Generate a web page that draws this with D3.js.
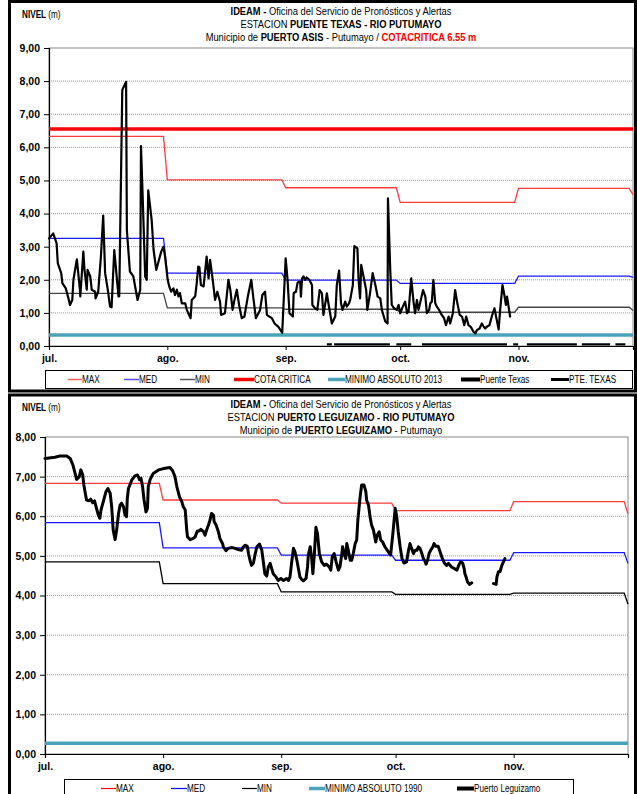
<!DOCTYPE html>
<html>
<head>
<meta charset="utf-8">
<script src="https://cdn.jsdelivr.net/npm/d3@7"></script>
<style>
  body { margin: 0; background: #fff; }
  svg text { font-family: "Liberation Sans", Arial, sans-serif; }
</style>
</head>
<body>
<svg id="visu" width="637" height="794"></svg>
<script>
// ---- data ----
var monthLabels = ["jul.", "ago.", "sep.", "oct.", "nov."];
var startDate = new Date(2013, 6, 1);
var endDate = new Date(2013, 11, 1);

// Puente Texas: monthly reference levels jul..nov + value on dec 1
var texMax = [6.33, 5.02, 4.78, 4.34, 4.76, 4.57];
var texMed = [3.25, 2.20, 1.99, 1.89, 2.11, 2.07];
var texMin = [1.59, 1.15, 1.11, 1.02, 1.17, 1.07];
var texCota = 6.55;
var texMinAbs = 0.33;
// observed level, day offset from jul 1
var texDay = [0, 1.1, 2.0, 2.3, 3.2, 3.5, 4.4, 5.2, 5.5, 6.1, 6.4, 7.3, 8.1, 8.2, 9.0, 9.3, 9.9, 10.1, 10.8, 11.2,
  12.1, 12.2, 12.9, 13.6, 14.2, 14.7, 15.4, 16.0, 16.4, 17.1, 17.5, 18.2, 18.4, 19.2, 20.2, 20.4, 21.2, 22.1, 23.2, 23.9,
  24.1, 24.6, 25.2, 25.6, 26.0, 26.9, 27.4, 28.1, 28.7, 29.4, 30.0, 30.4, 31.1, 31.5, 32.0, 32.6, 33.0, 33.5, 33.9, 34.3,
  34.8, 35.7, 36.1, 37.1, 37.4, 38.3, 38.7, 39.1, 39.4, 39.8, 40.5, 41.3, 41.8, 42.2, 42.9, 43.5, 44.1, 44.8, 45.1, 46.1,
  47.0, 47.5, 48.1, 48.5, 49.2, 49.8, 50.5, 51.2, 52.1, 53.0, 53.6, 54.2, 55.3, 55.9, 56.6, 57.1, 57.7, 58.4, 59.1, 60.1,
  61.1, 62.0, 62.5, 63.0, 63.9, 64.1, 64.7, 65.1, 65.4, 65.8, 66.0, 66.3, 66.7, 67.1, 67.5, 68.2, 68.9, 69.0, 69.7, 70.3,
  70.9, 71.5, 71.9, 72.8, 73.2, 74.1, 75.0, 75.4, 76.0, 76.5, 76.9, 77.6, 78.0, 78.6, 78.9, 79.6, 80.0, 80.8, 81.1, 81.5,
  81.8, 82.4, 83.1, 83.4, 84.1, 84.8, 85.5, 86.1, 86.8, 87.2, 88.1, 88.7, 88.8, 89.4, 89.8, 90.4, 91.1, 91.6, 92.0, 92.7,
  93.3, 93.8, 94.2, 94.9, 95.5, 95.9, 96.4, 96.8, 97.3, 98.0, 98.6, 99.0, 99.6, 99.9, 100.3, 100.7, 101.2, 101.6, 102.2, 102.9,
  103.5, 104.0, 104.7, 105.1, 105.8, 106.4, 106.9, 107.6, 108.2, 108.8, 109.3, 109.9, 110.5, 111.2, 111.7, 112.1, 112.8, 113.4, 113.9, 114.3,
  114.7, 115.4, 116.0, 116.7, 117.3, 117.8, 118.2, 118.8, 119.3, 119.7, 120.0, 120.8];
var texLevel = [3.25, 3.40, 3.10, 2.50, 2.20, 1.90, 1.74, 1.39, 1.24, 1.39, 2.00, 2.62, 1.70, 1.50, 2.85, 2.30, 1.70, 2.30, 2.10, 1.70,
  1.64, 1.44, 1.64, 2.70, 3.94, 2.20, 1.70, 1.19, 1.17, 2.90, 2.40, 1.50, 1.50, 7.73, 7.98, 3.50, 2.25, 2.10, 1.39, 1.70,
  6.04, 4.30, 2.10, 2.00, 4.70, 3.80, 2.90, 2.30, 2.55, 2.85, 3.00, 2.70, 2.00, 1.80, 1.64, 1.74, 1.54, 1.70, 1.50, 1.60,
  1.29, 1.29, 1.09, 0.84, 1.39, 1.50, 1.90, 2.40, 2.38, 1.84, 1.80, 2.70, 2.04, 2.60, 2.00, 1.39, 1.64, 1.34, 0.94, 0.99,
  2.00, 1.70, 1.09, 1.34, 1.70, 1.24, 0.84, 0.89, 1.50, 2.00, 1.39, 0.84, 1.09, 1.54, 1.64, 0.94, 0.89, 0.84, 0.68, 0.58,
  0.40, 2.65, 2.00, 0.99, 0.89, 1.60, 1.64, 1.90, 1.94, 1.94, 1.49, 2.04, 2.10, 2.00, 2.07, 2.00, 1.84, 1.24, 1.14, 1.09,
  1.69, 1.59, 0.94, 1.59, 1.29, 0.68, 0.89, 1.84, 2.28, 1.29, 1.09, 1.34, 1.19, 1.29, 1.39, 1.84, 3.02, 2.95, 2.00, 1.44,
  2.45, 2.10, 1.69, 1.09, 1.59, 2.20, 1.84, 1.49, 1.44, 1.09, 0.74, 0.68, 4.46, 2.30, 1.24, 1.14, 1.09, 1.24, 0.99, 1.19,
  1.34, 0.99, 1.04, 2.04, 1.34, 0.99, 1.39, 1.09, 1.34, 1.69, 1.49, 0.99, 1.09, 1.29, 1.34, 2.00, 1.29, 1.19, 1.09, 0.94,
  0.84, 0.63, 0.89, 0.68, 0.99, 1.69, 1.34, 0.94, 0.89, 0.63, 0.89, 0.63, 0.58, 0.43, 0.38, 0.48, 0.53, 0.68, 0.58, 0.53,
  0.58, 0.63, 0.89, 1.14, 0.79, 0.50, 1.09, 1.84, 1.54, 1.24, 1.49, 0.89];
// PTE. TEXAS series, only a near-zero trace (day ranges)
var pteStart = [72.8, 74.7, 91.0, 97.7, 121.6, 125.2, 139.6, 148.4];
var pteEnd = [74.1, 89.3, 94.9, 120.0, 122.9, 138.3, 147.0, 151.0];
var pteLevel = 0.05;

// Puerto Leguizamo
var legMax = [6.83, 6.41, 6.33, 6.14, 6.37, 6.06];
var legMed = [5.84, 5.20, 5.02, 4.89, 5.08, 4.81];
var legMin = [4.85, 4.30, 4.09, 4.03, 4.06, 3.78];
var legMinAbs = 0.27;
var legDay = [0, 2.6, 3.9, 5.7, 6.6, 7.3, 7.9, 8.3, 9.0, 9.4, 9.9, 10.2, 10.5, 10.9, 11.6, 12.0, 12.5, 13.0, 13.4, 14.0,
  14.4, 14.7, 15.3, 16.0, 16.5, 17.1, 17.5, 17.9, 18.4, 18.8, 19.3, 19.7, 20.1, 20.6, 21.0, 21.4, 21.6, 21.9, 22.8, 23.6,
  24.3, 24.8, 25.2, 25.6, 26.0, 26.5, 26.9, 27.1, 27.6, 28.4, 29.8, 31.5, 32.8, 33.5, 34.1, 34.6, 35.3, 35.9, 36.3, 36.8,
  37.0, 37.2, 37.4, 38.1, 38.9, 39.4, 40.0, 40.5, 40.9, 41.6, 42.0, 42.4, 42.9, 43.3, 43.7, 44.2, 44.4, 44.9, 45.5, 45.9,
  46.6, 46.8, 47.5, 48.1, 49.0, 49.9, 50.7, 51.6, 52.1, 52.5, 53.1, 53.4, 53.8, 54.2, 54.7, 55.1, 55.6, 56.3, 56.9, 57.3,
  57.7, 58.2, 58.6, 59.1, 59.5, 59.9, 60.6, 61.2, 61.9, 62.6, 63.4, 63.9, 64.3, 64.7, 65.2, 65.6, 66.1, 66.5, 66.9, 67.4,
  67.8, 68.5, 68.9, 69.1, 69.6, 70.0, 70.3, 70.7, 71.1, 71.5, 72.0, 72.6, 73.3, 73.9, 74.6, 75.0, 75.4, 75.9, 76.4, 77.0,
  77.4, 77.9, 78.1, 78.5, 78.9, 79.2, 79.6, 80.1, 80.5, 80.9, 81.4, 81.8, 82.1, 82.7, 83.1, 83.7, 84.2, 84.4, 84.9, 85.3,
  85.7, 86.2, 86.8, 87.2, 87.7, 88.1, 88.6, 89.2, 90.1, 90.7, 91.3, 91.9, 92.3, 92.7, 93.2, 93.7, 94.2, 94.9, 95.4, 95.8,
  96.2, 96.7, 97.1, 97.6, 98.0, 98.4, 98.9, 99.3, 99.7, 100.0, 100.4, 100.8, 101.2, 101.8, 102.1, 102.6, 103.2, 103.7, 104.3, 104.8,
  105.4, 105.9, 106.3, 106.7, 107.4, 108.1, 108.7, 109.1, 109.6, 110.0, 110.2, 110.5, 110.9, 111.4, 112.0, 114.5, 117.7, 118.4, 118.6, 119.0,
  119.4, 119.9, 120.3, 120.7];
var legLevel = [7.46, 7.49, 7.52, 7.52, 7.46, 7.30, 7.08, 6.93, 7.00, 7.17, 7.04, 6.79, 6.62, 6.41, 6.39, 6.43, 6.34, 6.39, 6.24, 6.03,
  5.95, 6.16, 6.37, 6.62, 6.70, 6.58, 6.24, 5.65, 5.41, 5.65, 6.07, 6.28, 6.33, 6.24, 6.03, 5.99, 6.45, 6.70, 6.92, 7.02,
  7.04, 6.92, 6.96, 6.75, 6.41, 6.11, 6.20, 6.75, 6.93, 7.08, 7.17, 7.21, 7.23, 7.15, 7.00, 6.75, 6.49, 6.37, 6.24, 6.16,
  5.90, 5.65, 5.48, 5.41, 5.44, 5.48, 5.63, 5.63, 5.67, 5.61, 5.52, 5.65, 5.78, 5.90, 6.07, 6.03, 5.86, 5.78, 5.61, 5.44,
  5.31, 5.23, 5.13, 5.19, 5.21, 5.19, 5.16, 5.14, 5.23, 5.27, 5.24, 5.06, 4.89, 4.76, 4.82, 5.02, 5.23, 5.30, 5.14, 4.85,
  4.55, 4.49, 4.72, 4.81, 4.68, 4.55, 4.47, 4.38, 4.43, 4.38, 4.43, 4.38, 4.47, 4.81, 5.19, 5.10, 4.89, 4.68, 4.47, 4.40,
  4.37, 4.43, 4.72, 5.02, 5.23, 4.93, 4.55, 5.06, 5.72, 5.57, 5.06, 4.85, 4.76, 4.79, 4.72, 4.64, 4.98, 5.06, 4.85, 4.64,
  4.72, 5.06, 5.23, 5.06, 4.93, 5.31, 5.14, 4.89, 4.89, 5.06, 5.31, 5.40, 5.90, 6.49, 6.79, 6.79, 6.62, 6.41, 6.28, 5.99,
  5.78, 5.65, 5.35, 5.52, 5.61, 5.40, 5.35, 5.23, 5.10, 5.02, 5.57, 6.20, 5.99, 5.61, 5.23, 4.93, 4.82, 4.85, 5.14, 5.31,
  5.19, 5.06, 5.14, 5.14, 5.23, 5.19, 5.06, 4.93, 4.87, 4.79, 4.89, 5.06, 5.14, 5.23, 5.31, 5.24, 5.24, 5.10, 4.93, 4.82,
  4.76, 4.81, 4.76, 4.72, 4.68, 4.64, 4.79, 4.85, 4.82, 4.68, 4.55, 4.47, 4.34, 4.28, 4.32, null, 4.30, 4.28, 4.47, 4.60,
  4.60, 4.76, 4.85, 4.93];

// ---- drawing ----
var svg = d3.select("#visu");
var fmt = d3.formatLocale({ decimal: ",", thousands: ".", grouping: [3], currency: ["$", ""] }).format(".2f");
var teal = "#4aa3b8";
var NARROW = 0.82; // Arial Narrow look

function dayToDate(d) {
  return new Date(startDate.getTime() + d * 864e5);
}

function stepPoints(vals) {
  var pts = [];
  for (var i = 0; i < 5; i++) {
    var a = d3.timeMonth.offset(startDate, i);
    var b = d3.timeDay.offset(d3.timeMonth.offset(startDate, i + 1), -1);
    pts.push([a, vals[i]], [b, vals[i]]);
  }
  pts.push([endDate, vals[5]]);
  return pts;
}

// condensed text: a group squeezed horizontally around its anchor point
function narrowText(parent, x, y, size, anchor) {
  return parent.append("g")
    .attr("transform", "translate(" + x + "," + y + ") scale(" + NARROW + ",1)")
    .append("text").attr("font-size", size).attr("text-anchor", anchor || "start");
}

function drawPanel(p) {
  var g = svg.append("g");
  var x = d3.scaleTime().domain([startDate, endDate]).range([p.left, p.right]);
  var y = d3.scaleLinear().domain([0, p.yMax]).range([p.bottom, p.top]);
  var line = d3.line()
    .defined(function (d) { return d[1] != null; })
    .x(function (d) { return x(d[0]); })
    .y(function (d) { return y(d[1]); });

  // outer frame
  g.append("rect")
    .attr("x", 9.5).attr("y", p.frameTop)
    .attr("width", 626).attr("height", p.frameBottom - p.frameTop)
    .attr("fill", "none").attr("stroke", "#000").attr("stroke-width", 3);

  // titles
  var nv = narrowText(g, 22, p.frameTop + 16, 10);
  nv.append("tspan").attr("font-weight", "bold").text("NIVEL ");
  nv.append("tspan").text("(m)");
  p.titles.forEach(function (parts, i) {
    var t = narrowText(g, 341, p.frameTop + 13 + i * 13, 11.4, "middle");
    parts.forEach(function (s) {
      t.append("tspan").attr("font-weight", s[1] ? "bold" : null)
        .attr("fill", s[2] || "#000").text(s[0]);
    });
  });

  // grid
  g.append("g").selectAll("line").data(d3.range(1, p.yMax)).join("line")
    .attr("x1", p.left).attr("x2", p.right)
    .attr("y1", function (d) { return y(d); }).attr("y2", function (d) { return y(d); })
    .attr("stroke", "#999").attr("stroke-width", 1).attr("stroke-dasharray", "1,1");
  g.append("rect")
    .attr("x", p.left).attr("y", p.top)
    .attr("width", p.right - p.left).attr("height", p.bottom - p.top)
    .attr("fill", "none").attr("stroke", "#888").attr("stroke-width", 1);

  // axes
  var ya = g.append("g").attr("transform", "translate(" + p.left + ",0)")
    .call(d3.axisLeft(y).tickValues(d3.range(0, p.yMax + 1)).tickSize(5).tickPadding(4).tickFormat(fmt));
  ya.selectAll("text").attr("font-weight", "bold").attr("font-size", 10.5).attr("fill", "#000");
  var xa = g.append("g").attr("transform", "translate(0," + p.bottom + ")")
    .call(d3.axisBottom(x).tickValues(d3.range(5).map(function (i) { return d3.timeMonth.offset(startDate, i); }))
      .tickSize(4).tickPadding(5).tickFormat(function (d, i) { return monthLabels[i]; }));
  xa.selectAll("text").attr("font-weight", "bold").attr("font-size", 10.5).attr("fill", "#000");
  g.selectAll(".domain").attr("stroke", "#000").attr("stroke-width", 1.2);

  // reference lines
  if (p.cota != null) {
    g.append("path").datum([[startDate, p.cota], [endDate, p.cota]]).attr("d", line)
      .attr("fill", "none").attr("stroke", "#ff0000").attr("stroke-width", 3.5);
  }
  g.append("path").datum(stepPoints(p.max)).attr("d", line)
    .attr("fill", "none").attr("stroke", "#ff3b3b").attr("stroke-width", 1.3);
  g.append("path").datum(stepPoints(p.med)).attr("d", line)
    .attr("fill", "none").attr("stroke", "#1a1aff").attr("stroke-width", 1.3);
  g.append("path").datum(stepPoints(p.min)).attr("d", line)
    .attr("fill", "none").attr("stroke", p.minColor).attr("stroke-width", 1.3);
  g.append("path").datum([[startDate, p.minAbs], [endDate, p.minAbs]]).attr("d", line)
    .attr("fill", "none").attr("stroke", teal).attr("stroke-width", 3.5);

  if (p.segStart) {
    g.append("g").selectAll("line").data(p.segStart).join("line")
      .attr("x1", function (d) { return x(dayToDate(d)); })
      .attr("x2", function (d, i) { return x(dayToDate(p.segEnd[i])); })
      .attr("y1", y(p.segLevel)).attr("y2", y(p.segLevel))
      .attr("stroke", "#000").attr("stroke-width", 2.2);
  }

  // observed series
  var obs = p.days.map(function (d, i) { return [dayToDate(d), p.levels[i]]; });
  g.append("path").datum(obs).attr("d", line)
    .attr("fill", "none").attr("stroke", "#000").attr("stroke-width", p.obsWidth)
    .attr("stroke-linejoin", "round").attr("stroke-linecap", "round");

  // legend
  g.append("rect").attr("x", p.legend.x0 + 0.5).attr("y", p.legend.y0 + 0.5)
    .attr("width", p.legend.x1 - p.legend.x0).attr("height", 18)
    .attr("fill", "#fff").attr("stroke", "#000").attr("stroke-width", 1);
  var ly = p.legend.y0 + 9.5;
  p.legend.items.forEach(function (it) {
    g.append("line").attr("x1", it.x).attr("x2", it.x + it.w).attr("y1", ly).attr("y2", ly)
      .attr("stroke", it.color).attr("stroke-width", it.sw);
    narrowText(g, it.x + it.w, ly + 3.5, 10).text(it.label);
  });
}

drawPanel({
  frameTop: 1.5, frameBottom: 391,
  left: 49, right: 633, top: 48, bottom: 346, yMax: 9,
  titles: [
    [["IDEAM - ", true], ["Oficina del Servicio de Pronósticos y Alertas"]],
    [["ESTACION "], ["PUENTE TEXAS - RIO PUTUMAYO", true]],
    [["Municipio de "], ["PUERTO ASIS", true], [" - Putumayo / "], ["COTACRITICA 6.55 m", true, "#ff0000"]]
  ],
  max: texMax, med: texMed, min: texMin, minColor: "#444", cota: texCota, minAbs: texMinAbs,
  segStart: pteStart, segEnd: pteEnd, segLevel: pteLevel,
  days: texDay, levels: texLevel, obsWidth: 2.2,
  legend: {
    x0: 45, x1: 632, y0: 370,
    items: [
      { x: 68, w: 14, color: "#ff6060", sw: 1.5, label: "MAX" },
      { x: 124, w: 15, color: "#5050ff", sw: 1.5, label: "MED" },
      { x: 180, w: 15, color: "#555", sw: 1.5, label: "MIN" },
      { x: 234, w: 20, color: "#ff0000", sw: 3.5, label: "COTA CRITICA" },
      { x: 328, w: 17, color: teal, sw: 3.5, label: "MINIMO ABSOLUTO 2013" },
      { x: 461, w: 19, color: "#000", sw: 4, label: "Puente Texas" },
      { x: 551, w: 18, color: "#000", sw: 3, label: "PTE. TEXAS" }
    ]
  }
});

drawPanel({
  frameTop: 395, frameBottom: 830,
  left: 45, right: 628, top: 437, bottom: 754, yMax: 8,
  titles: [
    [["IDEAM - ", true], ["Oficina del Servicio de Pronósticos y Alertas"]],
    [["ESTACION "], ["PUERTO LEGUIZAMO -  RIO PUTUMAYO", true]],
    [["Municipio de "], ["PUERTO LEGUIZAMO", true], [" - Putumayo"]]
  ],
  max: legMax, med: legMed, min: legMin, minColor: "#000", cota: null, minAbs: legMinAbs,
  days: legDay, levels: legLevel, obsWidth: 3,
  legend: {
    x0: 64, x1: 573, y0: 779,
    items: [
      { x: 101, w: 15, color: "#ff0000", sw: 1.2, label: "MAX" },
      { x: 171, w: 16, color: "#0000ff", sw: 1.2, label: "MED" },
      { x: 242, w: 15, color: "#000", sw: 1.2, label: "MIN" },
      { x: 309, w: 16, color: teal, sw: 3.5, label: "MINIMO ABSOLUTO 1990" },
      { x: 457, w: 17, color: "#000", sw: 4, label: "Puerto Leguizamo" }
    ]
  }
});
</script>
</body>
</html>
